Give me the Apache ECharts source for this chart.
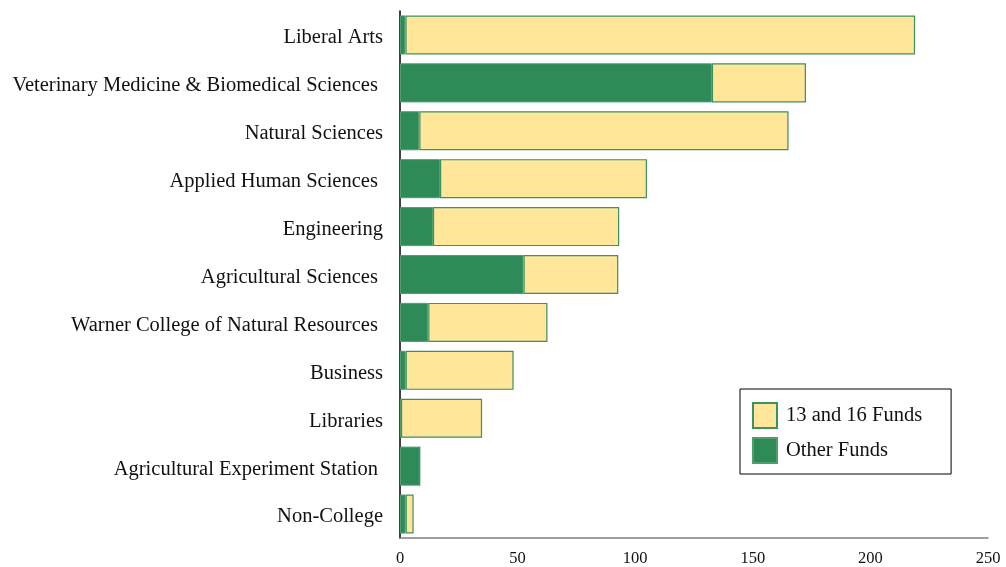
<!DOCTYPE html>
<html><head><meta charset="utf-8">
<script src="https://cdn.jsdelivr.net/npm/echarts@6/dist/echarts.min.js"></script>
<style>html,body{margin:0;padding:0;background:#fff}#c{width:1006px;height:567px}</style>
</head><body><div id="c"></div>
<script>
const categories = ["Liberal Arts","Veterinary Medicine & Biomedical Sciences ","Natural Sciences","Applied Human Sciences ","Engineering","Agricultural Sciences ","Warner College of Natural Resources ","Business","Libraries","Agricultural Experiment Station ","Non-College"];
const otherFunds = [2.3, 132.6, 8.2, 17, 14, 52.5, 12, 2.4, 0.4, 8.4, 2.4];
const funds1316 = [216.7, 40, 157, 88, 79.2, 40.3, 50.7, 45.9, 34.5, 0, 3.4];
const xTicks = [0, 50, 100, 150, 200, 250];

const FONT = "Liberation Serif";
const GREEN = "#2e8a57", YELLOW = "#ffe699";
const chart = echarts.init(document.getElementById('c'), null, {renderer:'canvas'});
chart.setOption({
  animation:false,
  textStyle:{fontFamily:FONT},
  grid:{left:400,right:18,top:11,bottom:29,containLabel:false},
  legend:{
    orient:'vertical', left:740, top:389,
    data:["13 and 16 Funds","Other Funds"],
    itemWidth:24, itemHeight:25, itemGap:8,
    padding:[13,29,10,12],
    borderColor:'#000', borderWidth:1,
    icon:'rect',
    textStyle:{fontFamily:FONT, fontSize:20.5, color:'#111', lineHeight:25, padding:[0,0,0,4]}
  },
  xAxis:{
    type:'value', min:xTicks[0], max:xTicks[xTicks.length-1], interval:50,
    axisLine:{show:true, lineStyle:{color:'#808080', width:1.5}},
    axisTick:{show:false}, splitLine:{show:false},
    axisLabel:{fontFamily:FONT, fontSize:16.5, color:'#111', margin:12}
  },
  yAxis:{
    type:'category', inverse:true, data:categories,
    axisLine:{show:true, lineStyle:{color:'#000', width:1.5}},
    axisTick:{show:false},
    axisLabel:{margin:17, formatter: v => '{a|' + v + '}',
      rich:{a:{fontFamily:FONT, fontSize:20.5, color:'#111', padding:[6,0,0,0]}}}
  },
  series:[
    {name:"Other Funds", type:'bar', stack:'t', data:otherFunds, barCategoryGap:'18.5%',
     itemStyle:{color:GREEN, borderColor:'#4f9e6f', borderWidth:1}},
    {name:"13 and 16 Funds", type:'bar', stack:'t', data:funds1316, barCategoryGap:'18.5%',
     itemStyle:{color:YELLOW, borderColor:'#3b9160', borderWidth:1.2}}
  ]
});
</script></body></html>
